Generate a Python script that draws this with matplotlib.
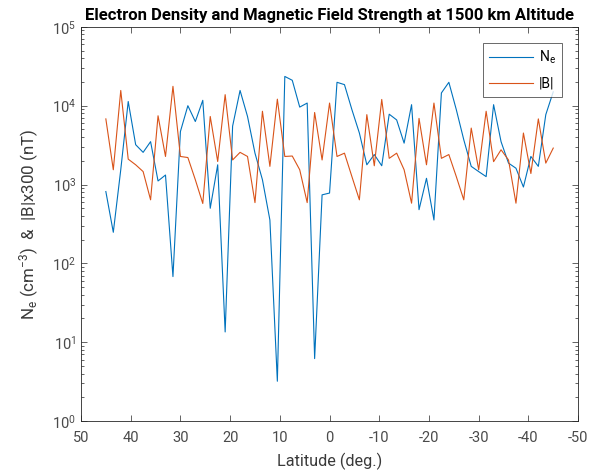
import matplotlib
matplotlib.use("Agg")
import matplotlib.pyplot as plt
import numpy as np

# latitude grid (deg), 1.5 deg steps from 45 to -45
lat = np.linspace(45, -45, 61)

# electron density (cm^-3)
ne = [815, 248, 1540, 11300, 3200, 2560, 3500, 1110, 1320, 68,
      4700, 10000, 6300, 11700, 500, 1780, 13.5, 5500, 15600, 7300,
      2500, 1150, 355, 3.2, 23500, 21000, 9600, 10800, 6.2, 740,
      780, 19800, 18500, 8900, 4500, 1780, 2400, 1730, 7800, 6600,
      3350, 10300, 480, 1200, 355, 14500, 19800, 8900, 3700, 1700,
      1460, 1260, 10300, 3500, 1870, 1610, 930, 2270, 1700, 7700,
      15000]

# |B| x 300 (nT)
bmag = [6800, 1540, 15600, 2100, 1780, 1460, 640, 7450, 2270, 17600,
        2270, 2200, 1150, 575, 7300, 1960, 13800, 2050, 2560, 2270,
        590, 8500, 1700, 12100, 2270, 2300, 1540, 590, 8200, 2050,
        10800, 2270, 2500, 1260, 640, 7700, 1730, 12000, 2150, 2500,
        1540, 580, 6900, 1780, 10800, 2150, 2400, 1260, 640, 5200,
        1540, 8500, 1950, 2760, 2050, 580, 4500, 1380, 6800, 1870,
        2900]

xticks = [50, 40, 30, 20, 10, 0, -10, -20, -30, -40, -50]

plt.rcParams['font.family'] = ['Roboto', 'DejaVu Sans']
plt.rcParams['mathtext.fontset'] = 'custom'
plt.rcParams['mathtext.rm'] = 'Roboto'
plt.rcParams['mathtext.it'] = 'Roboto'

fig = plt.figure(figsize=(5.89, 4.71), dpi=100)
ax = fig.add_axes([0.1375, 0.106, 0.844, 0.837])

ax.plot(lat, ne, color='#0072BD', lw=0.8, label='N$_e$')
ax.plot(lat, bmag, color='#D95319', lw=0.8, label='|B|')

ax.set_yscale('log')
ax.set_ylim(1, 1e5)
ax.set_xlim(50, -50)
ax.set_xticks(xticks)
ax.set_xticklabels([str(t) for t in xticks])

dark = '#262626'
for s in ax.spines.values():
    s.set_color(dark)
    s.set_linewidth(0.6)
ax.tick_params(which='both', direction='in', top=True, right=True,
               color=dark, labelcolor='#4a4a4a', labelsize=10.5, width=0.5)
ax.tick_params(which='major', length=4)
ax.tick_params(which='minor', length=2)
ax.tick_params(axis='x', which='minor', bottom=False, top=False)
ax.tick_params(axis='x', pad=7)

ax.set_title('Electron Density and Magnetic Field Strength at 1500 km Altitude',
             fontsize=12, fontweight='bold', color='black', pad=5)
ax.set_xlabel('Latitude (deg.)', fontsize=11.7, color='#3a3a3a', labelpad=6)
ax.set_ylabel('N$_e$ (cm$^{-3}$)  &  |B|x300 (nT)', fontsize=12.2,
              color='#3a3a3a', labelpad=8)

leg = ax.legend(loc='upper right', bbox_to_anchor=(0.968, 0.96), fontsize=10,
                frameon=True, fancybox=False, edgecolor=dark, handlelength=3.2,
                borderpad=0.45, labelspacing=0.75, handletextpad=0.4,
                borderaxespad=0)
leg.get_frame().set_linewidth(0.6)

fig.savefig('out.png', dpi=100)
